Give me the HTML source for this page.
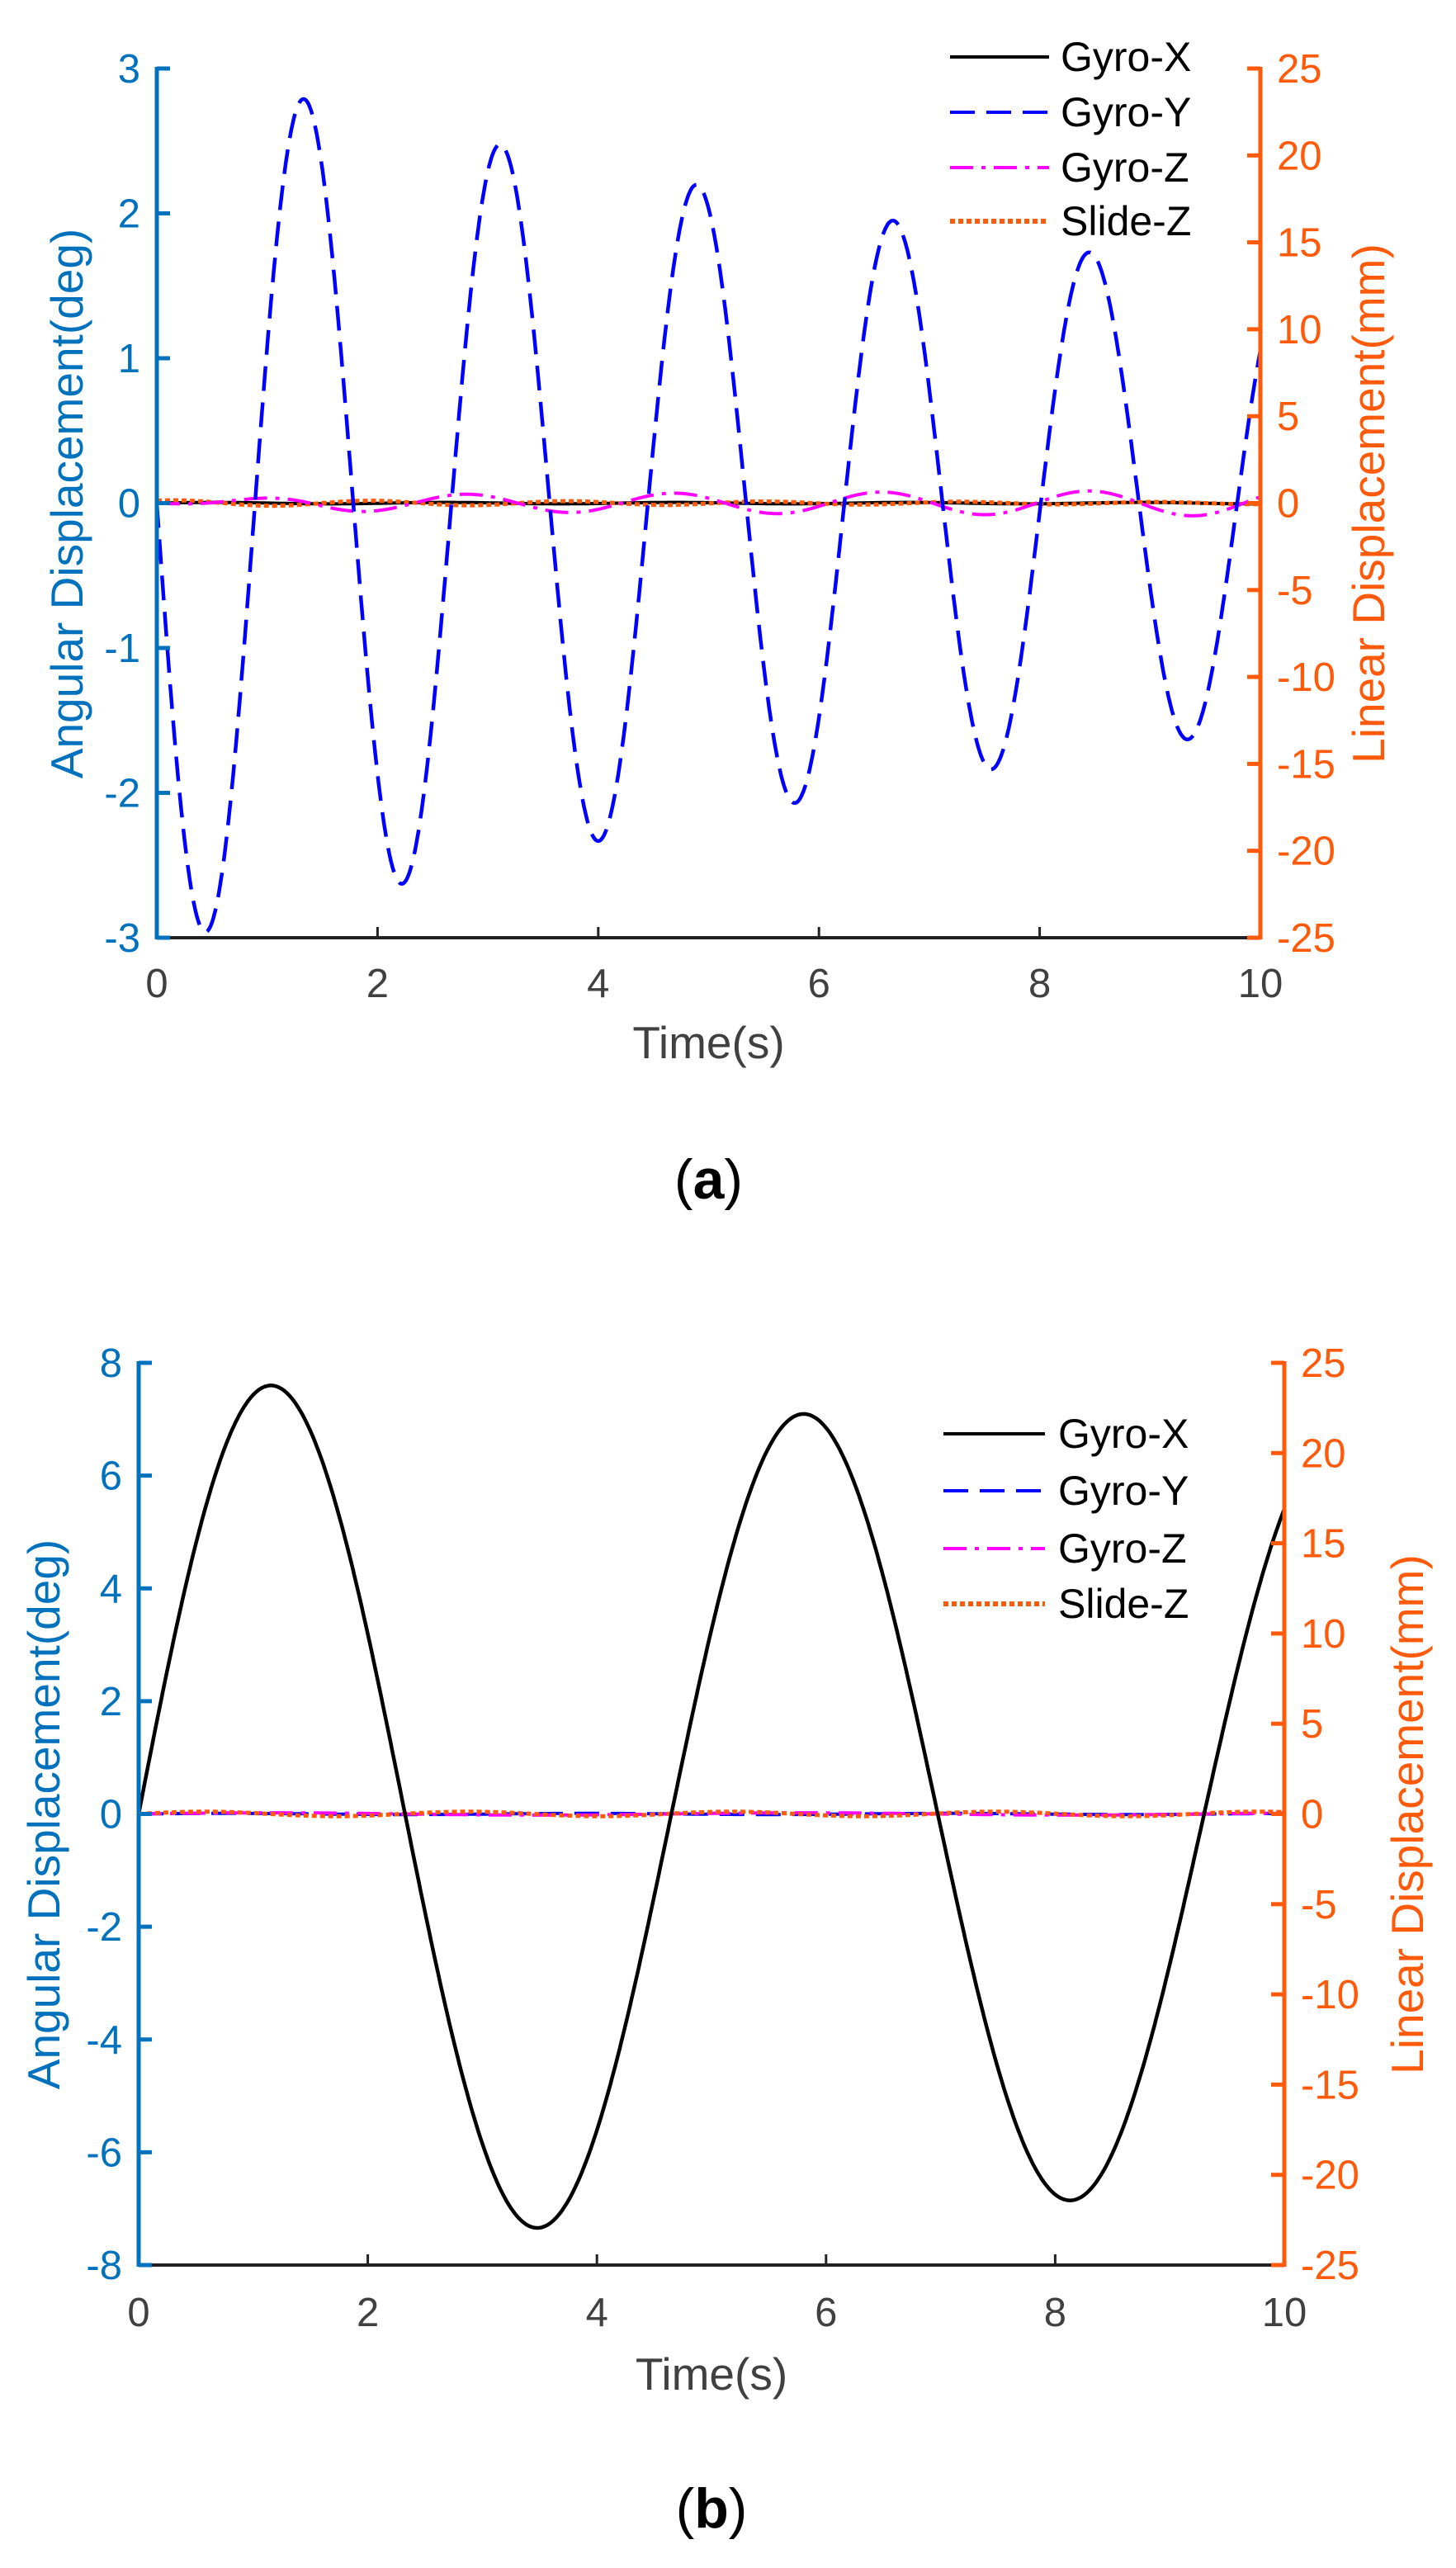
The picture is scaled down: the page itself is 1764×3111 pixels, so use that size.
<!DOCTYPE html>
<html><head><meta charset="utf-8"><style>
html,body{margin:0;padding:0;background:#fff}
svg{display:block}
text{font-family:"Liberation Sans",Arial,sans-serif}
</style></head><body>
<svg id="s" width="1764" height="3111" xmlns="http://www.w3.org/2000/svg"></svg>
<script>
const s=document.getElementById('s');let h='';
const BL='#0072BD',OR='#FF5A0A',GR='#404040';
function panel(o){
 const {x0,x1,y0,y1,ymin,ymax,lstep,lbl,curves,leg,tickY,timeY,capY,cap,labLX,labRX,labCY}=o;
 const X=t=>x0+(x1-x0)*t/10, Y=d=>y1-(d-ymin)/(ymax-ymin)*(y1-y0), YR=d=>y1-(d+25)/50*(y1-y0);
 for(const c of curves){let p='';for(let i=0;i<=1000;i++){const t=i/100;p+=(i?'L':'M')+X(t).toFixed(1)+' '+Y(c.f(t)).toFixed(1);}
  h+=`<path d="${p}" fill="none" stroke="${c.col}" stroke-width="${c.w||4}" ${c.da?'stroke-dasharray="'+c.da+'"':''}/>`;}
 h+=`<line x1="${x0}" y1="${y1}" x2="${x1}" y2="${y1}" stroke="#222" stroke-width="4"/>`;
 for(let t=0;t<=10;t+=2){h+=`<line x1="${X(t)}" y1="${y1}" x2="${X(t)}" y2="${y1-13}" stroke="#222" stroke-width="3"/>`;
  h+=`<text x="${X(t)}" y="${tickY}" font-size="49" fill="${GR}" text-anchor="middle">${t}</text>`;}
 h+=`<line x1="${x0}" y1="${y0-2}" x2="${x0}" y2="${y1+2}" stroke="${BL}" stroke-width="5"/>`;
 for(let d=ymin;d<=ymax;d+=lstep){h+=`<line x1="${x0}" y1="${Y(d)}" x2="${x0+16}" y2="${Y(d)}" stroke="${BL}" stroke-width="5"/>`;
  h+=`<text x="${x0-20}" y="${Y(d)+17}" font-size="49" fill="${BL}" text-anchor="end">${d}</text>`;}
 h+=`<line x1="${x1}" y1="${y0-2}" x2="${x1}" y2="${y1+2}" stroke="${OR}" stroke-width="5"/>`;
 for(let d=-25;d<=25;d+=5){h+=`<line x1="${x1}" y1="${YR(d)}" x2="${x1-16}" y2="${YR(d)}" stroke="${OR}" stroke-width="5"/>`;
  h+=`<text x="${x1+20}" y="${YR(d)+17}" font-size="49" fill="${OR}">${d}</text>`;}
 h+=`<text x="${(x0+x1)/2}" y="${timeY}" font-size="55" fill="${GR}" text-anchor="middle">Time(s)</text>`;
 h+=`<text transform="translate(${labLX},${labCY}) rotate(-90)" font-size="55" fill="${BL}" text-anchor="middle">Angular Displacement(deg)</text>`;
 h+=`<text transform="translate(${labRX},${labCY}) rotate(-90)" font-size="55" fill="${OR}" text-anchor="middle">Linear Displacement(mm)</text>`;
 h+=`<text x="${(x0+x1)/2}" y="${capY}" font-size="68" fill="#000" text-anchor="middle" font-family="Liberation Serif,serif">(<tspan font-weight="bold">${cap}</tspan>)</text>`;
 const names=['Gyro-X','Gyro-Y','Gyro-Z','Slide-Z'],cols=['#000','#0000FF','#FF00FF',OR],das=['','30 14','28 10 5 10','6 4'];
 names.forEach((n,i)=>{const y=leg.ys[i];
  h+=`<line x1="${leg.lx0}" y1="${y}" x2="${leg.lx1}" y2="${y}" stroke="${cols[i]}" stroke-width="${i==3?6:4}" ${das[i]?'stroke-dasharray="'+das[i]+'"':''}/>`;
  h+=`<text x="${leg.tx}" y="${y+17}" font-size="50" fill="#000">${n}</text>`;});
}
const TA=1.78;
panel({x0:190,x1:1527,y0:83,y1:1136,ymin:-3,ymax:3,lstep:1,tickY:1208,timeY:1282,capY:1452,cap:'a',labLX:100,labRX:1677,labCY:610,
 leg:{ys:[69,136,203,268],lx0:1151,lx1:1271,tx:1285},
 curves:[
  {col:'#000',f:t=>0.005*Math.sin(3*t)},
  {col:OR,da:'6 4',w:5,f:t=>0.02*Math.sin(2*Math.PI*t/1.78+1)*Math.exp(-0.1*t)},
  {col:'#FF00FF',da:'28 10 5 10',f:t=>(0.05+0.004*t)*Math.sin(2*Math.PI*(t-2.33)/1.88)*Math.min(1,t/1.5)},
  {col:'#0000FF',da:'30 14',w:4.5,f:t=>-3.05*Math.exp(-0.067*t)*Math.sin(2*Math.PI*t/TA)}
 ]});
panel({x0:168,x1:1556,y0:1651,y1:2744,ymin:-8,ymax:8,lstep:2,tickY:2818,timeY:2895,capY:3062,cap:'b',labLX:72,labRX:1724,labCY:2198,
 leg:{ys:[1737,1806,1876,1943],lx0:1143,lx1:1266,tx:1282},
 curves:[
  {col:'#0000FF',da:'30 14',f:t=>0.01*Math.sin(2*t)},
  {col:'#FF00FF',da:'28 10 5 10',f:t=>0.02*Math.sin(2*Math.PI*t/4.65)},
  {col:OR,da:'6 4',w:5,f:t=>0.04*Math.sin(2*Math.PI*t/2.3)},
  {col:'#000',w:4.5,f:t=>7.73*Math.exp(-0.0148*t)*Math.sin(2*Math.PI*t/4.65)}
 ]});
s.innerHTML=h;
</script>
</body></html>
